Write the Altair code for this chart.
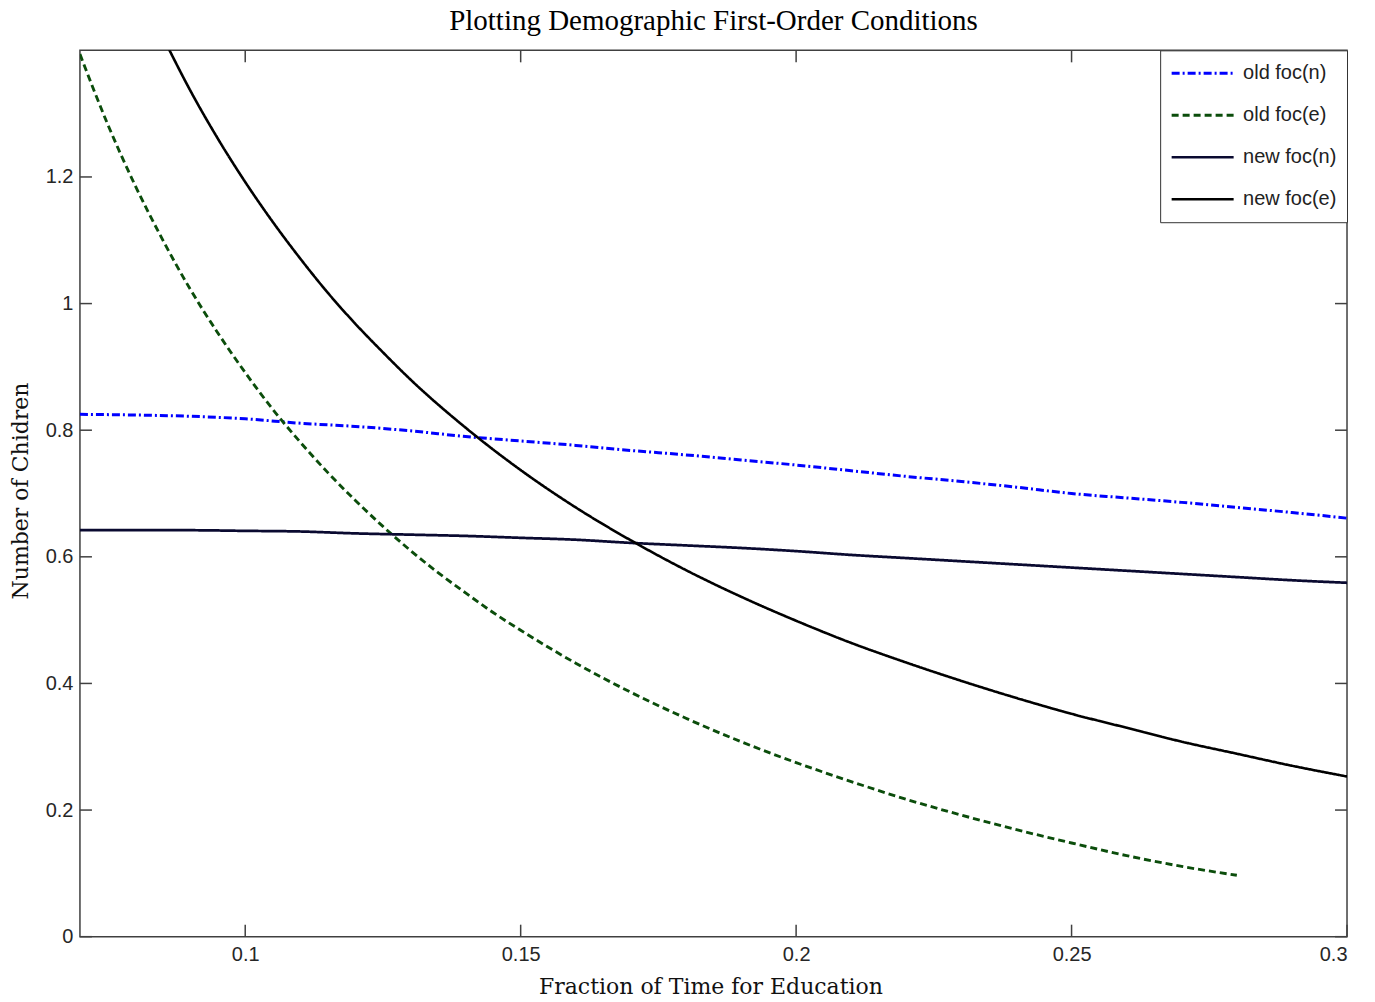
import altair as alt
import pandas as pd

# ---------------- data ----------------
x_old_n = [0.07, 0.08, 0.09, 0.10, 0.11, 0.12, 0.13, 0.14, 0.15, 0.16, 0.17, 0.18,
           0.19, 0.20, 0.21, 0.22, 0.23, 0.24, 0.25, 0.26, 0.27, 0.28, 0.29, 0.30]
y_old_n = [0.825, 0.824, 0.822, 0.818, 0.811, 0.806, 0.799, 0.790, 0.783, 0.776, 0.768, 0.761,
           0.753, 0.745, 0.736, 0.727, 0.719, 0.710, 0.700, 0.693, 0.686, 0.678, 0.670, 0.661]

x_old_e = [0.070, 0.075, 0.080, 0.085, 0.090, 0.095, 0.100, 0.105, 0.110, 0.115, 0.120,
           0.125, 0.130, 0.135, 0.140, 0.145, 0.150, 0.160, 0.170, 0.180, 0.190, 0.200,
           0.210, 0.220, 0.230, 0.240, 0.250, 0.260, 0.270, 0.280]
y_old_e = [1.394, 1.284, 1.187, 1.101, 1.023, 0.954, 0.891, 0.833, 0.781, 0.733, 0.689,
           0.648, 0.610, 0.575, 0.543, 0.512, 0.484, 0.432, 0.386, 0.345, 0.308, 0.275,
           0.245, 0.217, 0.192, 0.169, 0.148, 0.128, 0.111, 0.097]

x_new_n = [0.07, 0.08, 0.09, 0.10, 0.11, 0.12, 0.13, 0.14, 0.15, 0.16, 0.17, 0.18,
           0.19, 0.20, 0.21, 0.22, 0.23, 0.24, 0.25, 0.26, 0.27, 0.28, 0.29, 0.30]
y_new_n = [0.642, 0.642, 0.642, 0.641, 0.640, 0.637, 0.635, 0.633, 0.630, 0.627, 0.622, 0.618,
           0.614, 0.609, 0.603, 0.598, 0.593, 0.588, 0.583, 0.578, 0.573, 0.568, 0.563, 0.559]

x_new_e = [0.0862, 0.090, 0.095, 0.100, 0.105, 0.110, 0.115, 0.120, 0.125, 0.130, 0.140,
           0.150, 0.160, 0.170, 0.180, 0.190, 0.200, 0.210, 0.220, 0.230, 0.240, 0.250,
           0.260, 0.270, 0.280, 0.290, 0.300]
y_new_e = [1.401, 1.337, 1.261, 1.192, 1.129, 1.071, 1.017, 0.968, 0.923, 0.880, 0.804,
           0.737, 0.678, 0.626, 0.579, 0.537, 0.499, 0.464, 0.433, 0.404, 0.377, 0.352,
           0.330, 0.308, 0.289, 0.270, 0.253]

series_names = ["old foc(n)", "old foc(e)", "new foc(n)", "new foc(e)"]
series_colors = ["#0000ff", "#0b4d0b", "#0a0a30", "#000000"]
series_dash = [[8, 3, 2, 3], [7, 4], [1, 0], [1, 0]]
series_width = [3.0, 2.6, 3.0, 2.7]

x_ticks = [0.1, 0.15, 0.2, 0.25, 0.3]
y_ticks = [0, 0.2, 0.4, 0.6, 0.8, 1.0, 1.2]

W, H = 1268, 887
TL = 12
FRAME = "#404040"

rows = []
for name, xs, ys in zip(series_names,
                        [x_old_n, x_old_e, x_new_n, x_new_e],
                        [y_old_n, y_old_e, y_new_n, y_new_e]):
    for i, (a, b) in enumerate(zip(xs, ys)):
        rows.append({"series": name, "x": a, "y": b, "i": i})
df = pd.DataFrame(rows)

xscale = alt.Scale(domain=[0.07, 0.3], nice=False, zero=False)
yscale = alt.Scale(domain=[0, 1.4], nice=False, zero=True)

xaxis = alt.Axis(values=x_ticks, format=".2~f", title="Fraction of Time for Education",
                 ticks=False, domain=False, grid=False, labelFont="Liberation Sans",
                 labelFontSize=20, labelColor="#262626", labelPadding=8,
                 titleFont="DejaVu Serif", titleFontSize=22, titleFontWeight="normal",
                 titleColor="#111111", titleX=W / 2 - 3, titleY=50,
                 titleBaseline="middle", titleAlign="center")
yaxis = alt.Axis(values=y_ticks, format=".1~f", title="Number of Chidren",
                 ticks=False, domain=False, grid=False, labelFont="Liberation Sans",
                 labelFontSize=20, labelColor="#262626", labelPadding=7,
                 titleFont="DejaVu Serif", titleFontSize=22, titleFontWeight="normal",
                 titleColor="#111111", titleX=-59, titleY=H / 2 - 3,
                 titleBaseline="middle", titleAlign="center", titleAngle=270)

legend = alt.Legend(title=None, orient="top-right", offset=0,
                    symbolType="M-1,0L4.17,0", symbolSize=576,
                    symbolStrokeWidth=2.6, symbolOffset=0,
                    labelOffset=46, labelFont="Liberation Sans",
                    labelFontSize=20, labelColor="#222222",
                    clipHeight=26, rowPadding=16, padding=10, strokeColor="#333333",
                    fillColor="white", cornerRadius=0)

lines = alt.Chart(df).mark_line(interpolate="monotone", clip=True).encode(
    x=alt.X("x:Q", scale=xscale, axis=xaxis),
    y=alt.Y("y:Q", scale=yscale, axis=yaxis),
    color=alt.Color("series:N", scale=alt.Scale(domain=series_names, range=series_colors),
                    legend=legend),
    strokeDash=alt.StrokeDash("series:N", scale=alt.Scale(domain=series_names, range=series_dash),
                              legend=legend),
    strokeWidth=alt.StrokeWidth("series:N", scale=alt.Scale(domain=series_names, range=series_width),
                                legend=None),
    order="i:Q",
)

tx = pd.DataFrame({"x": x_ticks})
ty = pd.DataFrame({"y": y_ticks})

top_ticks = alt.Chart(tx).mark_rule(color=FRAME, strokeWidth=1.5).encode(
    x=alt.X("x:Q", scale=xscale, axis=xaxis), y=alt.value(0), y2=alt.value(TL))
bot_ticks = alt.Chart(tx).mark_rule(color=FRAME, strokeWidth=1.5).encode(
    x=alt.X("x:Q", scale=xscale, axis=xaxis), y=alt.value(H - TL), y2=alt.value(H))
left_ticks = alt.Chart(ty).mark_rule(color=FRAME, strokeWidth=1.5).encode(
    y=alt.Y("y:Q", scale=yscale, axis=yaxis), x=alt.value(0), x2=alt.value(TL))
right_ticks = alt.Chart(ty).mark_rule(color=FRAME, strokeWidth=1.5).encode(
    y=alt.Y("y:Q", scale=yscale, axis=yaxis), x=alt.value(W - TL), x2=alt.value(W))

chart = alt.layer(lines, top_ticks, bot_ticks, left_ticks, right_ticks).properties(
    width=W, height=H,
    title=alt.TitleParams("Plotting Demographic First-Order Conditions", font="Liberation Serif",
                          fontSize=29, fontWeight="normal", color="#000000", anchor="middle",
                          offset=14),
    padding={"left": 72, "top": 42, "right": 20, "bottom": 70},
    autosize="none",
    background="white",
).configure_view(stroke=FRAME, strokeWidth=1.5)

chart.save("out.html", embed_options={"renderer": "svg", "actions": False})
